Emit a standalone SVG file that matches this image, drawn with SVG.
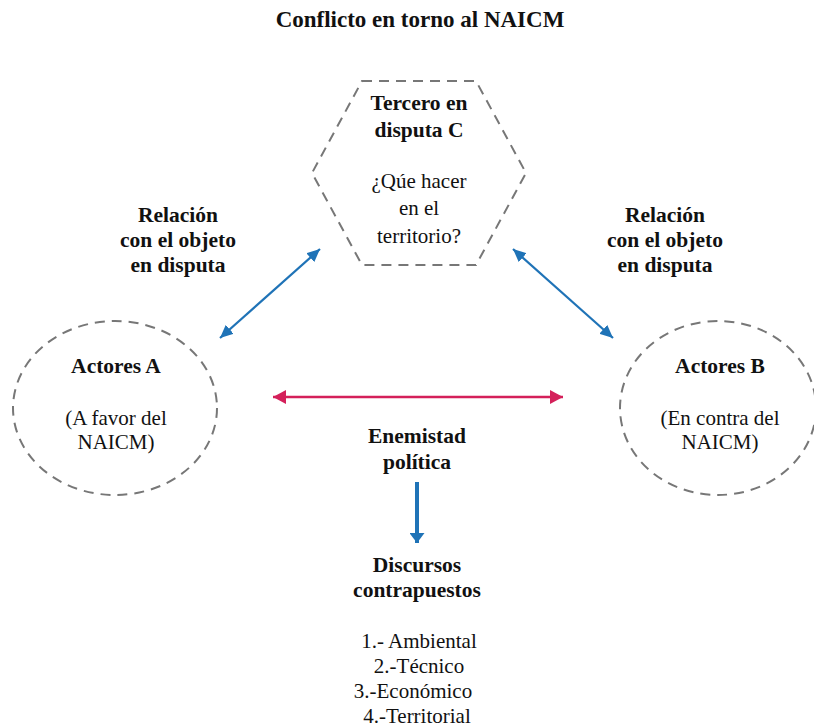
<svg xmlns="http://www.w3.org/2000/svg" width="814" height="728" viewBox="0 0 814 728">
<style>
text{fill:#111}
.b{font-weight:bold;font-size:21.5px}
.r{font-size:21px}
.t{font-weight:bold;font-size:23px}
.dash{fill:none;stroke:#777;stroke-width:2;stroke-dasharray:10 7}
.blue{stroke:#1f73b7;stroke-width:2.2;fill:none}
.pink{stroke:#d4205a;stroke-width:2.5;fill:none}
</style>
<defs>
<marker id="hb" markerUnits="userSpaceOnUse" markerWidth="14" markerHeight="12" refX="13" refY="6" orient="auto-start-reverse" viewBox="0 0 14 12"><path d="M0,0 L13,6 L0,12 z" fill="#1f73b7"/></marker>
<marker id="hp" markerUnits="userSpaceOnUse" markerWidth="14" markerHeight="14" refX="13" refY="7" orient="auto-start-reverse" viewBox="0 0 14 14"><path d="M0,0 L13,7 L0,14 z" fill="#d4205a"/></marker>
<marker id="hd" markerUnits="userSpaceOnUse" markerWidth="11" markerHeight="15" refX="10" refY="7.5" orient="auto" viewBox="0 0 11 15"><path d="M0,0 L10,7.5 L0,15 z" fill="#1f73b7"/></marker>
</defs>
<text class="t" x="420" y="27" text-anchor="middle" font-family="Liberation Serif, serif">Conflicto en torno al NAICM</text>
<g id="tercero">
<polygon class="dash" points="362,81 476,81 526,173 476,265 362,265 312,173"/>
<text class="b" x="419" y="110" text-anchor="middle" font-family="Times New Roman">Tercero en</text>
<text class="b" x="419" y="137" text-anchor="middle" font-family="Times New Roman">disputa C</text>
<text class="r" x="419" y="188" text-anchor="middle" font-family="Times New Roman">¿Qúe hacer</text>
<text class="r" x="419" y="215" text-anchor="middle" font-family="Times New Roman">en el</text>
<text class="r" x="419" y="243" text-anchor="middle" font-family="Times New Roman">territorio?</text>
</g>
<g id="actoresA">
<ellipse class="dash" cx="115" cy="408" rx="102" ry="87"/>
<text class="b" x="116" y="373" text-anchor="middle" font-family="Times New Roman">Actores A</text>
<text class="r" x="116" y="425" text-anchor="middle" font-family="Times New Roman">(A favor del</text>
<text class="r" x="116" y="449" text-anchor="middle" font-family="Times New Roman">NAICM)</text>
</g>
<g id="actoresB">
<ellipse class="dash" cx="718" cy="408" rx="98" ry="87"/>
<text class="b" x="720" y="373" text-anchor="middle" font-family="Times New Roman">Actores B</text>
<text class="r" x="720" y="425" text-anchor="middle" font-family="Times New Roman">(En contra del</text>
<text class="r" x="720" y="449" text-anchor="middle" font-family="Times New Roman">NAICM)</text>
</g>
<g id="relacionA">
<text class="b" x="178" y="222" text-anchor="middle" font-family="Times New Roman">Relación</text>
<text class="b" x="178" y="247" text-anchor="middle" font-family="Times New Roman">con el objeto</text>
<text class="b" x="178" y="272" text-anchor="middle" font-family="Times New Roman">en disputa</text>
</g>
<g id="relacionB">
<text class="b" x="665" y="222" text-anchor="middle" font-family="Times New Roman">Relación</text>
<text class="b" x="665" y="247" text-anchor="middle" font-family="Times New Roman">con el objeto</text>
<text class="b" x="665" y="272" text-anchor="middle" font-family="Times New Roman">en disputa</text>
</g>
<g id="enemistad">
<text class="b" x="417" y="443" text-anchor="middle" font-family="Times New Roman">Enemistad</text>
<text class="b" x="417" y="469" text-anchor="middle" font-family="Times New Roman">política</text>
</g>
<g id="discursos">
<text class="b" x="417" y="572" text-anchor="middle" font-family="Times New Roman">Discursos</text>
<text class="b" x="417" y="597" text-anchor="middle" font-family="Times New Roman">contrapuestos</text>
<text class="r" x="419" y="648" text-anchor="middle" font-family="Times New Roman">1.- Ambiental</text>
<text class="r" x="419" y="673" text-anchor="middle" font-family="Times New Roman">2.-Técnico</text>
<text class="r" x="413" y="698" text-anchor="middle" font-family="Times New Roman">3.-Económico</text>
<text class="r" x="417" y="723" text-anchor="middle" font-family="Times New Roman">4.-Territorial</text>
</g>
<g id="connectors">
<line class="blue" x1="220" y1="338" x2="320" y2="249" marker-start="url(#hb)" marker-end="url(#hb)"/>
<line class="blue" x1="513" y1="249" x2="613" y2="338" marker-start="url(#hb)" marker-end="url(#hb)"/>
<line class="pink" x1="273" y1="397" x2="563" y2="397" marker-start="url(#hp)" marker-end="url(#hp)"/>
<line stroke="#1f73b7" stroke-width="4" x1="417" y1="482" x2="417" y2="543" marker-end="url(#hd)"/>
</g>
</svg>
